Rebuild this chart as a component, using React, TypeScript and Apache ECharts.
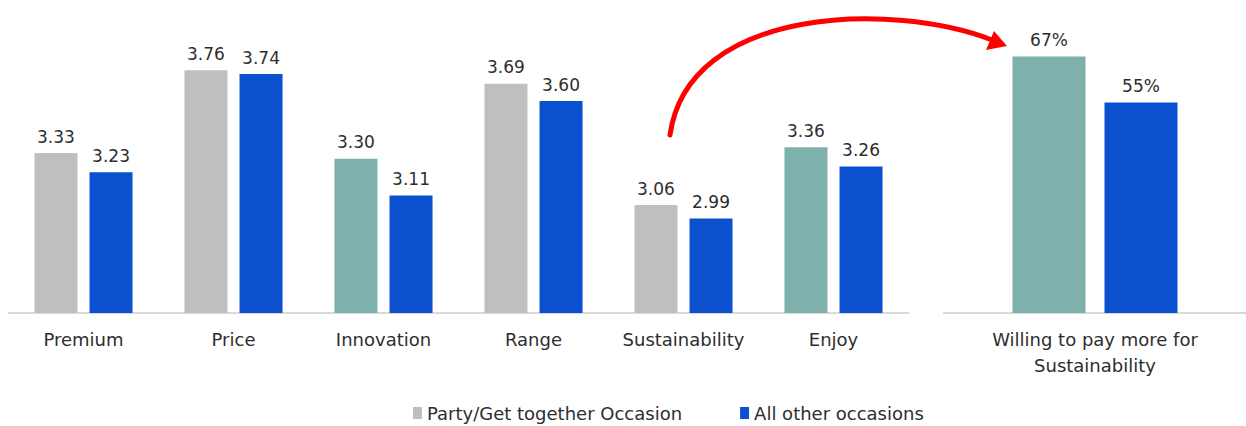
import React, { useEffect, useRef } from "react";
import * as echarts from "echarts";

// Attribute scores by occasion
const categories = ["Premium", "Price", "Innovation", "Range", "Sustainability", "Enjoy"];
const partyScores = [3.33, 3.76, 3.3, 3.69, 3.06, 3.36];
const otherScores = [3.23, 3.74, 3.11, 3.6, 2.99, 3.26];
const highlighted = ["Innovation", "Enjoy"];

// Share willing to pay more
const willingCategories = ["Willing to pay more for\nSustainability"];
const partyWilling = [67];
const otherWilling = [55];

const seriesNames = ["Party/Get together Occasion", "All other occasions"];

const GRAY = "#bfbfbf";
const TEAL = "#7fb1ac";
const BLUE = "#0b51cf";
const TEXT = "#2e2e2e";
const FONT = "DejaVu Sans";

export default function App() {
  const ref = useRef<HTMLDivElement>(null);

  useEffect(() => {
    if (!ref.current) return;
    const chart = echarts.init(ref.current, undefined, { renderer: "svg" });

    const valueLabel = (fmt: (v: number) => string) => ({
      show: true,
      position: "top",
      distance: 8,
      color: TEXT,
      fontFamily: FONT,
      fontSize: 17,
      formatter: (p: any) => fmt(p.value),
    });

    const axisCommon = {
      type: "category",
      axisTick: { show: false },
      axisLine: { lineStyle: { color: "#d9d9d9", width: 2 } },
      axisLabel: {
        interval: 0,
        color: TEXT,
        fontFamily: FONT,
        fontSize: 18,
        margin: 13,
        lineHeight: 26,
      },
    };

    chart.setOption({
      animation: false,
      textStyle: { fontFamily: FONT },
      grid: [
        { left: 8.5, width: 900, top: 24, height: 289 },
        { left: 944, width: 306, top: 24, height: 289 },
      ],
      xAxis: [
        { ...axisCommon, gridIndex: 0, data: categories },
        { ...axisCommon, gridIndex: 1, data: willingCategories },
      ],
      yAxis: [
        { type: "value", gridIndex: 0, min: 2.5, max: 4, show: false },
        { type: "value", gridIndex: 1, min: 0, max: 75.5, show: false },
      ],
      legend: {
        left: 408,
        top: 399,
        itemWidth: 9,
        itemHeight: 12,
        itemGap: 58,
        icon: "rect",
        textStyle: { color: TEXT, fontFamily: FONT, fontSize: 18 },
        data: seriesNames,
      },
      series: [
        {
          name: seriesNames[0],
          type: "bar",
          xAxisIndex: 0,
          yAxisIndex: 0,
          barWidth: 43,
          barGap: "28%",
          itemStyle: { color: GRAY },
          label: valueLabel((v) => v.toFixed(2)),
          data: partyScores.map((v, i) => ({
            value: v,
            itemStyle: { color: highlighted.includes(categories[i]) ? TEAL : GRAY },
          })),
        },
        {
          name: seriesNames[1],
          type: "bar",
          xAxisIndex: 0,
          yAxisIndex: 0,
          barWidth: 43,
          barGap: "28%",
          itemStyle: { color: BLUE },
          label: valueLabel((v) => v.toFixed(2)),
          data: otherScores,
        },
        {
          name: seriesNames[0],
          type: "bar",
          xAxisIndex: 1,
          yAxisIndex: 1,
          barWidth: 73,
          barGap: "26%",
          itemStyle: { color: GRAY },
          label: valueLabel((v) => `${v}%`),
          data: partyWilling.map((v) => ({ value: v, itemStyle: { color: TEAL } })),
        },
        {
          name: seriesNames[1],
          type: "bar",
          xAxisIndex: 1,
          yAxisIndex: 1,
          barWidth: 73,
          barGap: "26%",
          itemStyle: { color: BLUE },
          label: valueLabel((v) => `${v}%`),
          data: otherWilling,
        },
      ],
      graphic: [
        {
          type: "bezierCurve",
          shape: { x1: 670, y1: 135, cpx1: 688, cpy1: 5, cpx2: 895, cpy2: 2, x2: 992, y2: 40 },
          style: { stroke: "#ff0000", lineWidth: 5, fill: null, lineCap: "round" },
          z: 100,
        },
        {
          type: "polygon",
          shape: { points: [[1007, 46], [986, 50], [994, 31]] },
          style: { fill: "#ff0000" },
          z: 100,
        },
      ],
    });

    return () => chart.dispose();
  }, []);

  return (
    <div
      ref={ref}
      style={{ position: "fixed", left: 0, top: 0, width: 1246, height: 426, background: "#fff" }}
    />
  );
}
